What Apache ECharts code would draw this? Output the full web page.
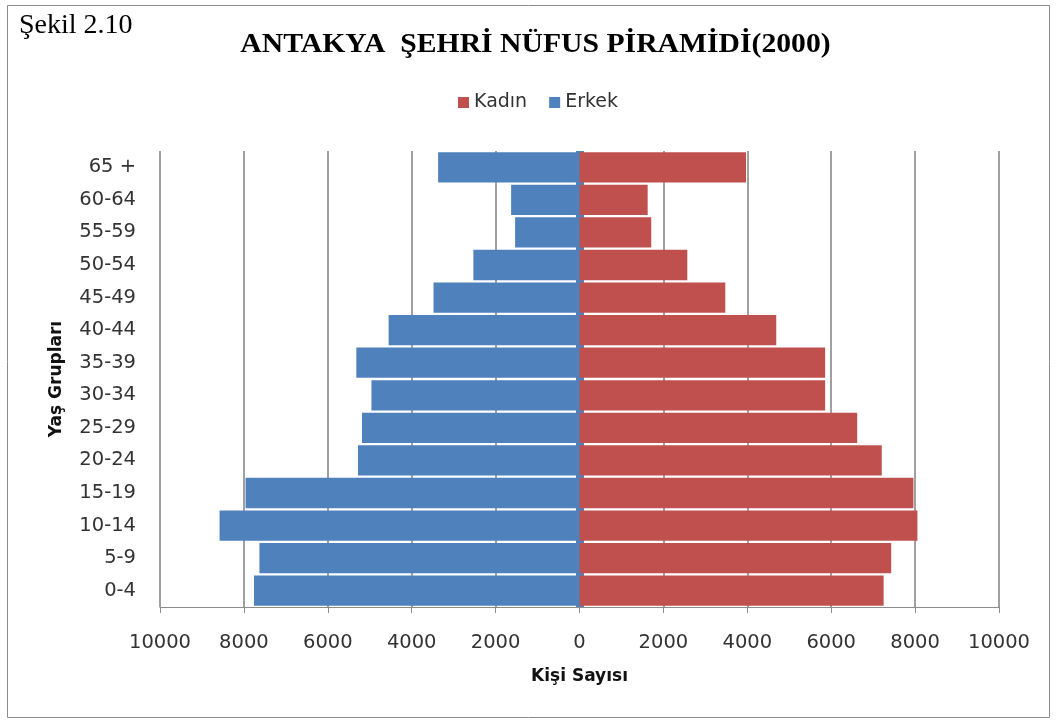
<!DOCTYPE html>
<html>
<head>
<meta charset="utf-8">
<script src="https://cdn.jsdelivr.net/npm/echarts@6/dist/echarts.min.js"></script>
<style>
html,body{margin:0;padding:0;background:#fff;}
#c{width:1057px;height:724px;}
</style>
</head>
<body>
<div id="c"></div>
<script>
const categories = ['0-4','5-9','10-14','15-19','20-24','25-29','30-34','35-39','40-44','45-49','50-54','55-59','60-64','65 +'];
const kadin = [7250, 7430, 8055, 7960, 7205, 6620, 5855, 5855, 4690, 3475, 2570, 1710, 1625, 3970];
const erkek = [7760, 7630, 8580, 7960, 5280, 5185, 4960, 5320, 4550, 3480, 2530, 1535, 1630, 3370];
const titleText = 'ANTAKYA  ŞEHRİ NÜFUS PİRAMİDİ(2000)';
const figureText = 'Şekil 2.10';

const chart = echarts.init(document.getElementById('c'), null, {renderer: 'canvas'});
const sans = '"DejaVu Sans", "Open Sans", sans-serif';

chart.setOption({
  backgroundColor: '#ffffff',
  animation: false,
  graphic: [{
    type: 'rect', silent: true, z: -1,
    shape: {x: 7.5, y: 5.5, width: 1042, height: 712},
    style: {fill: 'none', stroke: '#8c8c8c', lineWidth: 1}
  }, {
    type: 'text', silent: true,
    x: 535.5, y: 31, scaleX: 1.06,
    style: {text: titleText, x: 0, y: 0, align: 'center', verticalAlign: 'top',
            font: 'bold 28px "Liberation Serif", serif', fill: '#000'}
  }, {
    type: 'text', silent: true,
    x: 19, y: 12,
    style: {text: figureText, x: 0, y: 0, align: 'left', verticalAlign: 'top',
            font: '28px "Liberation Serif", serif', fill: '#000'}
  }],
  legend: {
    top: 88, left: 453,
    data: ['Kadın', 'Erkek'],
    itemWidth: 11, itemHeight: 11, itemGap: 22,
    icon: 'rect',
    textStyle: {fontFamily: sans, fontSize: 19, color: '#333'}
  },
  grid: {left: 160, right: 58, top: 151, bottom: 117, containLabel: false},
  xAxis: {
    type: 'value', min: -10000, max: 10000, interval: 2000,
    axisLine: {show: true, lineStyle: {color: '#8c8c8c', width: 1}},
    axisTick: {show: true, length: 6, lineStyle: {color: '#8c8c8c'}},
    splitLine: {show: true, lineStyle: {color: '#a0a0a0', width: 2}},
    axisLabel: {
      margin: 26, fontFamily: sans, fontSize: 19.5, color: '#333',
      formatter: v => String(Math.abs(v))
    },
    name: 'Kişi Sayısı', nameLocation: 'middle', nameGap: 61,
    nameTextStyle: {fontFamily: sans, fontWeight: 'bold', fontSize: 17, color: '#111'}
  },
  yAxis: {
    type: 'category', data: categories,
    axisLine: {show: false},
    axisTick: {show: false},
    axisLabel: {margin: 24, fontFamily: sans, fontSize: 19.5, color: '#333'},
    name: 'Yaş Grupları', nameLocation: 'middle', nameGap: 95, nameRotate: 90,
    nameTextStyle: {fontFamily: sans, fontWeight: 'bold', fontSize: 17, color: '#111'}
  },
  series: [{
    name: 'Kadın', type: 'bar', stack: 'p',
    data: kadin,
    barCategoryGap: '7%',
    itemStyle: {color: '#C0504D'},
    z: 10
  }, {
    name: 'Erkek', type: 'bar', stack: 'p',
    data: erkek.map(v => -v),
    barCategoryGap: '7%',
    itemStyle: {color: '#4F81BD'},
    z: 3,
    markLine: {
      silent: true, symbol: 'none', label: {show: false}, z: 3,
      lineStyle: {color: '#4F81BD', width: 8, type: 'solid'},
      data: [{xAxis: 0}]
    }
  }]
});
</script>
</body>
</html>
